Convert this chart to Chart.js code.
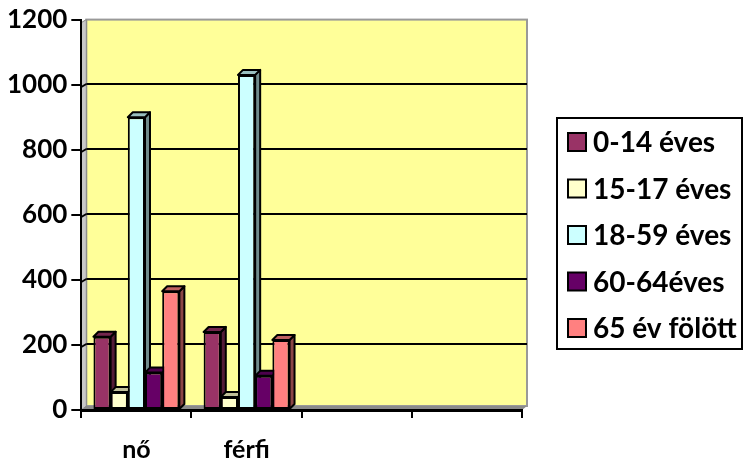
<!DOCTYPE html>
<html>
<head>
<meta charset="utf-8">
<script src="https://cdn.jsdelivr.net/npm/chart.js@4.4.1/dist/chart.umd.min.js"></script>
<style>
  html,body{margin:0;padding:0;background:#fff;}
  #wrap{width:744px;height:464px;}
</style>
</head>
<body>
<div id="wrap"><canvas id="c" width="744" height="464"></canvas></div>
<script>
// adatok
const categories = ['nő', 'férfi', '', ''];
const seriesNames = ['0-14 éves', '15-17 éves', '18-59 éves', '60-64éves', '65 év fölött'];
const age0_14  = [225, 240, null, null];
const age15_17 = [55, 40, null, null];
const age18_59 = [900, 1030, null, null];
const age60_64 = [115, 105, null, null];
const age65up  = [365, 215, null, null];
const yTicks   = [0, 200, 400, 600, 800, 1000, 1200];

const colors = ['#993366', '#FFFFCC', '#CCFFFF', '#660066', '#FF8080'];
const seriesValues = [age0_14, age15_17, age18_59, age60_64, age65up];

const YFONT = {family:'Lato', weight:'bold', size:26};
const XFONT = {family:'Lato', weight:'bold', size:25};
const LFONT = 'bold 28px Lato';
const D = 5;   // 3D melyseg

function shade(hex, f){
  const n = parseInt(hex.slice(1),16);
  const r = Math.round(((n>>16)&255)*f), g = Math.round(((n>>8)&255)*f), b = Math.round((n&255)*f);
  return `rgb(${r},${g},${b})`;
}

// hatfal, oldalfal, padlo es hatso racsvonalak
const walls = {
  id:'walls',
  beforeDraw(chart){
    const {ctx, chartArea:a, scales:{y}} = chart;
    ctx.save();
    ctx.fillStyle = '#FFFF99';
    ctx.fillRect(a.left+D, a.top, a.right-a.left, a.bottom-a.top-4);
    ctx.strokeStyle = '#999'; ctx.lineWidth = 2;
    ctx.strokeRect(a.left+D, a.top, a.right-a.left, a.bottom-a.top-4);
    // oldalfal
    ctx.fillStyle = '#c8c8c8';
    ctx.beginPath(); ctx.moveTo(a.left, a.top+3); ctx.lineTo(a.left+D, a.top); ctx.lineTo(a.left+D, a.bottom-4); ctx.lineTo(a.left, a.bottom); ctx.closePath(); ctx.fill();
    ctx.strokeStyle = '#888'; ctx.lineWidth = 1; ctx.stroke();
    // padlo
    ctx.fillStyle = '#8a8a8a';
    ctx.beginPath(); ctx.moveTo(a.left, a.bottom); ctx.lineTo(a.left+D, a.bottom-4); ctx.lineTo(a.right+D, a.bottom-4); ctx.lineTo(a.right, a.bottom); ctx.closePath(); ctx.fill();
    // racs
    ctx.strokeStyle = '#000'; ctx.lineWidth = 2;
    yTicks.forEach(v=>{
      if(v===0 || v===1200) return;
      const py = Math.round(y.getPixelForValue(v))-1;
      ctx.beginPath(); ctx.moveTo(a.left+D, py); ctx.lineTo(a.right+D, py); ctx.stroke();
      ctx.beginPath(); ctx.moveTo(a.left, py+3); ctx.lineTo(a.left+D, py); ctx.stroke();
    });
    ctx.restore();
  }
};

// oszlopok oldal- es tetolapja
const bars3d = {
  id:'bars3d',
  beforeDatasetsDraw(chart){
    const ctx = chart.ctx;
    ctx.save();
    ctx.strokeStyle = '#000'; ctx.lineWidth = 2; ctx.lineJoin = 'round';
    chart.data.datasets.forEach((ds, i)=>{
      chart.getDatasetMeta(i).data.forEach((bar, j)=>{
        if(ds.data[j]==null) return;
        const l = bar.x - bar.width/2, r = bar.x + bar.width/2, t = bar.y, b = bar.base;
        ctx.fillStyle = shade(colors[i], 0.55);
        ctx.beginPath(); ctx.moveTo(r, t); ctx.lineTo(r+D, t-D); ctx.lineTo(r+D, b-D); ctx.lineTo(r, b); ctx.closePath(); ctx.fill(); ctx.stroke();
        ctx.fillStyle = shade(colors[i], 0.75);
        ctx.beginPath(); ctx.moveTo(l, t); ctx.lineTo(l+D, t-D); ctx.lineTo(r+D, t-D); ctx.lineTo(r, t); ctx.closePath(); ctx.fill(); ctx.stroke();
      });
    });
    ctx.restore();
  }
};

// jelmagyarazat (kezzel rajzolva a pontos elhelyezeshez)
const legendBox = {
  id:'legendBox',
  afterDraw(chart){
    const ctx = chart.ctx;
    const bx = 557, by = 118, bw = 185, bh = 231, rowH = 46.5;
    ctx.save();
    ctx.strokeStyle = '#000'; ctx.lineWidth = 2;
    ctx.strokeRect(bx, by, bw, bh);
    ctx.font = LFONT;
    ctx.textBaseline = 'middle'; ctx.textAlign = 'left';
    chart.data.datasets.forEach((ds, i)=>{
      const cy = by + 24 + i*rowH;
      ctx.fillStyle = ds.backgroundColor;
      ctx.fillRect(bx+11, cy-9, 18, 18);
      ctx.lineWidth = 2; ctx.strokeRect(bx+11, cy-9, 18, 18);
      ctx.fillStyle = '#000';
      ctx.fillText(ds.label, bx+36, cy+1);
    });
    ctx.restore();
  }
};

new Chart(document.getElementById('c'), {
  type:'bar',
  data:{
    labels: categories,
    datasets: seriesNames.map((name, i)=>({
      label: name,
      data: seriesValues[i],
      backgroundColor: colors[i],
      borderColor: '#000',
      borderWidth: 2,
      borderSkipped: false,
      categoryPercentage: 0.78,
      barPercentage: 1.0
    }))
  },
  options:{
    responsive:false,
    animation:false,
    layout:{padding:{left:3, top:2, right:222, bottom:-18}},
    plugins:{
      tooltip:{enabled:false},
      legend:{display:false}
    },
    scales:{
      x:{
        grid:{offset:true, drawOnChartArea:false, drawTicks:true, tickLength:8, color:'#000', lineWidth:2},
        border:{color:'#000', width:3},
        ticks:{font:XFONT, color:'#000', padding:17}
      },
      y:{
        min:0, max:1200,
        grid:{drawOnChartArea:false, drawTicks:true, tickLength:10, color:'#000', lineWidth:2},
        border:{color:'#000', width:2},
        ticks:{font:YFONT, color:'#000', stepSize:200, padding:4, callback:v=>String(v)}
      }
    }
  },
  plugins:[walls, bars3d, legendBox]
});
</script>
</body>
</html>
